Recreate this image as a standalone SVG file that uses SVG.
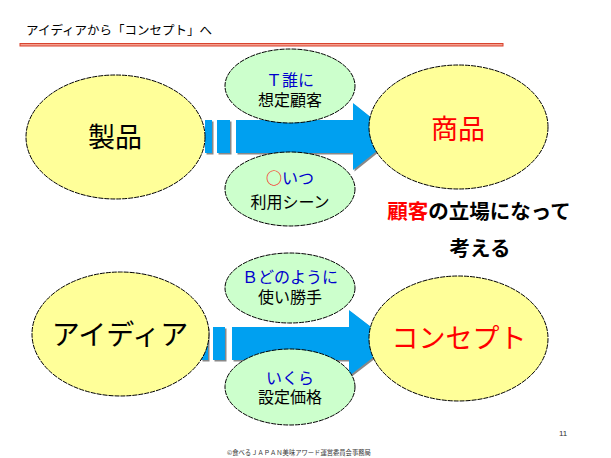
<svg xmlns="http://www.w3.org/2000/svg" width="611" height="458" viewBox="0 0 611 458">
<defs>
<style>
.jp{font-family:"Liberation Sans","Noto Sans CJK JP",sans-serif;}
.cjk{font-family:"Noto Sans CJK JP",sans-serif;}
.big{stroke:#000;stroke-width:1;stroke-dasharray:5 1;fill:#ffff99;}
.sm{stroke:#000;stroke-width:1;stroke-dasharray:5 1;fill:#ccffcc;}
.arr{fill:#00a0f0;}
.sh{fill:#888;}
.blue{fill:#0000cc;}
.red{fill:#ff0000;}
</style>
</defs>
<rect width="611" height="458" fill="#fff"/>
<g id="title">
<text class="jp" x="26" y="35" font-size="12.5">アイディアから「コンセプト」へ</text>
<rect x="20" y="43.5" width="483" height="2.5" fill="#f4a090" stroke="#d9432e" stroke-width="1"/>
</g>
<g id="connectors">
<g transform="translate(1.5,1.5)" class="sh">
<rect x="205" y="120" width="7" height="33"/>
<rect x="217" y="120" width="13" height="33"/>
<polygon points="236,120 353,120 353,103 395,136.5 353,170 353,153 236,153"/>
<rect x="201" y="327" width="7" height="33"/>
<rect x="213" y="327" width="12" height="33"/>
<polygon points="232,327 349,327 349,310 392,343 349,376 349,360 232,360"/>
</g>
<g class="arr">
<rect x="205" y="120" width="7" height="33"/>
<rect x="217" y="120" width="13" height="33"/>
<polygon points="236,120 353,120 353,103 395,136.5 353,170 353,153 236,153"/>
<rect x="201" y="327" width="7" height="33"/>
<rect x="213" y="327" width="12" height="33"/>
<polygon points="232,327 349,327 349,310 392,343 349,376 349,360 232,360"/>
</g>
</g>
<g id="who">
<ellipse class="sm" cx="290" cy="86" rx="65" ry="37"/>
<text class="cjk blue" x="290" y="86" font-size="16" text-anchor="middle">Ｔ誰に</text>
<text class="jp" x="290" y="106" font-size="16" text-anchor="middle">想定顧客</text>
</g>
<g id="when">
<ellipse class="sm" cx="290" cy="189" rx="65" ry="37"/>
<text class="cjk" x="290" y="184" font-size="16" text-anchor="middle"><tspan class="red">○</tspan><tspan class="blue">いつ</tspan></text>
<text class="jp" x="290" y="208" font-size="16" text-anchor="middle">利用シーン</text>
</g>
<g id="how">
<ellipse class="sm" cx="290" cy="288" rx="65" ry="35"/>
<text class="cjk blue" x="290" y="283" font-size="16" text-anchor="middle">Ｂどのように</text>
<text class="jp" x="290" y="303" font-size="16" text-anchor="middle">使い勝手</text>
</g>
<g id="price">
<ellipse class="sm" cx="290" cy="387" rx="65" ry="38"/>
<text class="jp blue" x="290" y="384" font-size="16" text-anchor="middle">いくら</text>
<text class="jp" x="290" y="403" font-size="16" text-anchor="middle">設定価格</text>
</g>
<g id="product">
<ellipse class="big" cx="115.5" cy="137" rx="89.5" ry="62"/>
<text class="jp" x="115" y="147" font-size="27" text-anchor="middle">製品</text>
</g>
<g id="goods">
<ellipse class="big" cx="458.5" cy="127" rx="89.5" ry="62"/>
<text class="jp red" x="458" y="139" font-size="27" text-anchor="middle">商品</text>
</g>
<g id="idea">
<ellipse class="big" cx="120.5" cy="334" rx="88.5" ry="62"/>
<text class="jp" x="120" y="345" font-size="28" text-anchor="middle">アイディア</text>
</g>
<g id="concept">
<ellipse class="big" cx="458.5" cy="338.5" rx="89.5" ry="62.5"/>
<text class="jp red" x="459" y="348" font-size="27" text-anchor="middle">コンセプト</text>
</g>
<g id="note">
<text class="jp" x="479" y="219" font-size="20.5" font-weight="bold" text-anchor="middle"><tspan class="red">顧客</tspan>の立場になって</text>
<text class="jp" x="480" y="256" font-size="20.5" font-weight="bold" text-anchor="middle">考える</text>
</g>
<g id="footer">
<text class="jp" x="559" y="436" font-size="8" fill="#333">11</text>
<text class="cjk" x="227" y="455" font-size="6.3" fill="#333">©食べるＪＡＰＡＮ美味アワード運営委員会事務局</text>
</g>
</svg>
